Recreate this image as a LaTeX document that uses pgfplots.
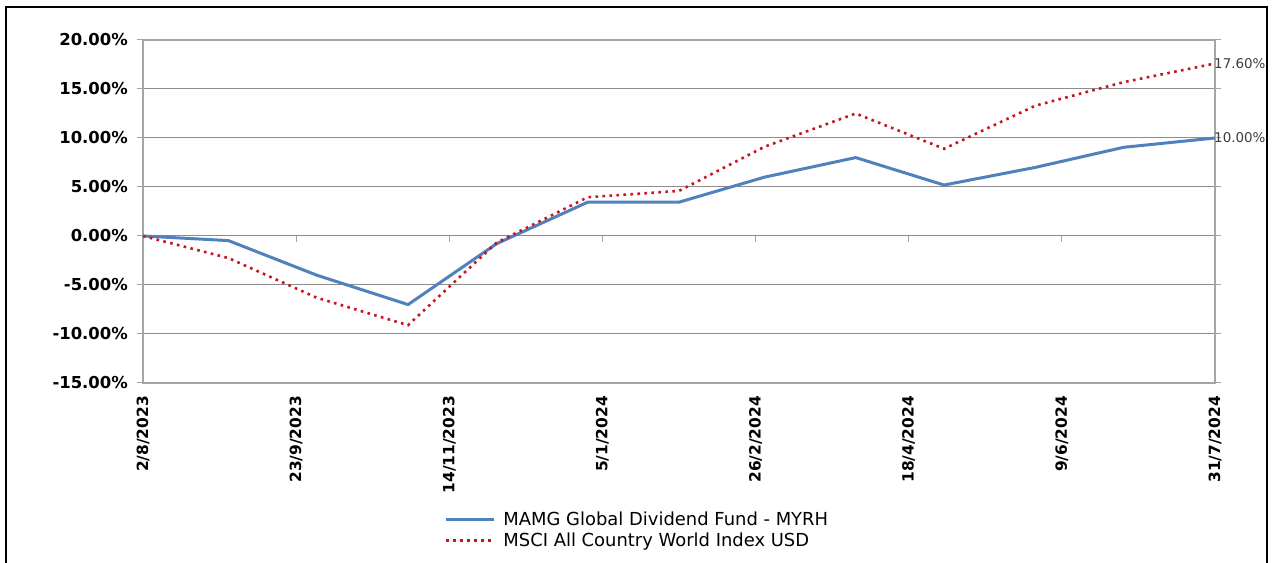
\documentclass[border=0pt]{standalone}
\usepackage{pgfplots}
\pgfplotsset{compat=1.18}
\usepackage{fontspec}
\setmainfont{DejaVu Sans}
\definecolor{fundblue}{RGB}{79,129,189}
\definecolor{idxred}{RGB}{200,20,30}
\definecolor{gridgray}{RGB}{140,140,140}
\definecolor{axgray}{RGB}{165,165,165}
\definecolor{valgray}{RGB}{60,60,60}
\begin{document}
\begin{tikzpicture}[x=1bp,y=1bp]
\useasboundingbox (0,0) rectangle (1273,563);
\draw[black,line width=1.5bp] (6,0) -- (6,556) -- (1267,556) -- (1267,0);
\begin{axis}[
  at={(143bp,180bp)}, anchor=south west,
  scale only axis, width=1072bp, height=343bp,
  clip=false,
  xmin=0, xmax=364, ymin=-15, ymax=20,
  xtick={0,52,104,156,208,260,312,364},
  xticklabels={2/8/2023,23/9/2023,14/11/2023,5/1/2024,26/2/2024,18/4/2024,9/6/2024,31/7/2024},
  ytick={-15,-10,-5,0,5,10,15,20},
  yticklabels={-15.00\%,-10.00\%,-5.00\%,0.00\%,5.00\%,10.00\%,15.00\%,20.00\%},
  ymajorgrids, major grid style={gridgray, line width=1bp},
  axis line style={axgray, line width=1.2bp},
  tick align=outside,
  x tick style={draw=none},
  y tick style={axgray, line width=1bp}, major tick length=6bp,
  ticklabel style={font=\fontsize{16}{19}\selectfont\bfseries},
  xticklabel style={rotate=90, anchor=east, inner sep=0pt, font=\fontsize{15.5}{19}\selectfont\bfseries},
  xticklabel shift=7bp,
  yticklabel style={anchor=east, inner sep=0pt, font=\fontsize{16.5}{19}\selectfont\bfseries},
  yticklabel shift=9bp,
  legend style={draw=none, fill=none, at={(axis description cs:0.281,-0.37)}, anchor=north west,
    font=\fontsize{18}{22}\selectfont, legend cell align=left, row sep=2bp, inner sep=0pt},
  legend image code/.code={\draw[#1] (0bp,0bp) -- (48bp,0bp); \path (54bp,0bp);},
]
\pgfplotsinvokeforeach{52,104,156,208,260,312,364}{
  \draw[axgray, line width=1bp] (axis cs:#1,0) -- ([yshift=-6bp]axis cs:#1,0);
}
\addplot[fundblue, line width=3bp, line join=round] coordinates {
(0,0) (29,-0.47) (59,-4.0) (90,-7.0) (120,-0.8) (151,3.45) (182,3.45) (211,6.0) (242,8.0) (272,5.2) (303,7.0) (333,9.05) (364,10.0)
};
\addlegendentry{MAMG Global Dividend Fund - MYRH}
\addplot[idxred, line width=2.6bp, dash pattern=on 2.6bp off 4.4bp] coordinates {
(0,0) (29,-2.25) (59,-6.3) (90,-9.1) (120,-0.7) (151,3.95) (182,4.6) (211,9.1) (242,12.5) (272,8.9) (303,13.3) (333,15.7) (364,17.6)
};
\addlegendentry{MSCI All Country World Index USD}
\node[anchor=west, inner sep=0pt, xshift=-1bp, text=valgray, font=\fontsize{13.5}{15}\selectfont] at (axis cs:364,17.6) {17.60\%};
\node[anchor=west, inner sep=0pt, xshift=-1bp, text=valgray, font=\fontsize{13.5}{15}\selectfont] at (axis cs:364,10) {10.00\%};
\end{axis}
\end{tikzpicture}
\end{document}
